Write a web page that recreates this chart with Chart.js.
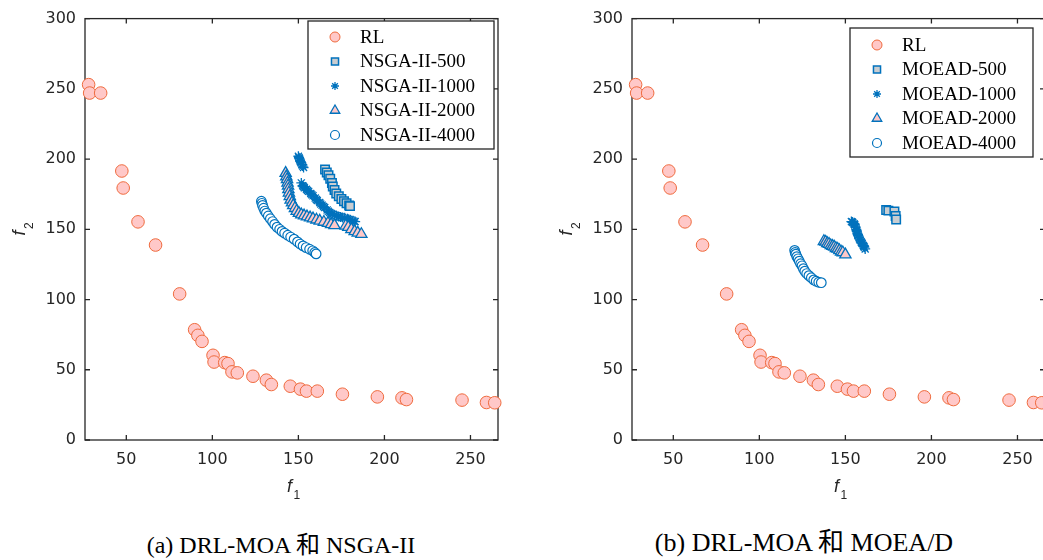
<!DOCTYPE html>
<html>
<head>
<meta charset="utf-8">
<script src="https://cdn.jsdelivr.net/npm/chart.js@4.4.0/dist/chart.umd.min.js"></script>
<style>
html, body { margin: 0; padding: 0; overflow: hidden; background: #fff; width: 1043px; height: 560px; }
canvas { position: absolute; top: 0; }
#cvA { left: 0; }
#cvB { left: 547px; }
.cap { position: absolute; top: 531px; font-family: "Liberation Serif", "Noto Sans CJK SC", serif; font-size: 24px; line-height: 28px; white-space: nowrap; color: #000; transform: translateX(-50%); }
</style>
</head>
<body>
<canvas id="cvA" width="520" height="520"></canvas>
<canvas id="cvB" width="520" height="520"></canvas>
<div class="cap" style="left:281px">(a) DRL-MOA 和 NSGA-II</div>
<div class="cap" style="left:804px; font-size:26px; top:529px">(b) DRL-MOA 和 MOEA/D</div>
<script>
// tick values
const xTicks = [50, 100, 150, 200, 250];
const yTicks = [0, 50, 100, 150, 200, 250, 300];

// RL front (same in both panels) [f1, f2]
const rl = [[28.1,253],[28.7,247],[35.1,247],[47.4,191.5],[48.2,179.4],[56.8,155.3],[67.0,138.8],[81.0,104],
  [89.7,78.5],[91.6,74.5],[94.0,70.2],[100.4,60.3],[101,55.5],[107.2,55.1],[109.1,54.4],[111.4,48.5],[114.5,47.8],
  [123.6,45.4],[131.4,42.6],[134.3,39.5],[145.3,38.3],[151.2,36.2],[154.7,34.8],[161.0,34.8],[175.6,32.6],
  [195.9,30.7],[210.2,30.0],[212.8,28.8],[245.1,28.4],[259.3,26.7],[264.1,26.5]];

// NSGA-II runs
const nsga500 = [[165.5,192.5],[166.5,190.5],[167.5,188.5],[168.5,186],[169.5,183],[170,180.5],[171,178],[172,175.5],
  [173.5,173.5],[175,171.5],[176.5,170],[178,168.5],[179.5,167],[180,166.5]];
const nsga1000 = [[150,202],[150.3,201],[150.5,200.5],[151,199],[151.2,198.2],[151.5,197.5],[152,196],[152.5,195],[153,194],
  [151.7,183],[152.5,181],[153,180.3],[153.5,179.5],[154.7,178.5],[155.3,177.6],[156,177],[157.2,175.5],[157.8,174.6],
  [158.5,173.8],[159.8,172.2],[160.4,171.2],[161,170.5],[162.4,169],[163,168],[163.8,167.2],[164.6,166.2],[165.3,165.5],
  [166.7,163.8],[167.4,162.8],[168.2,162],[169,161.3],[170,160.8],[171,160],[172.1,159.6],[173.3,159.1],[174.5,158.8],
  [175.7,158.4],[176.9,158.2],[178.5,157.5],[179.2,157],[180,156.8],[181.7,156],[182.4,155.6],[183,155.5]];
const nsga2000 = [[142.6,190],[143,187.5],[143.4,185.5],[143.7,183],[144,181],[144.2,178.5],[144.5,176],[145,173.5],
  [145.5,171],[146.3,169],[147,167],[148,165],[149,163],[150.3,161.5],[151.7,160.5],[153.3,159.7],[155,159],
  [156.8,158.3],[158.5,157.6],[160.5,156.8],[162.4,156],[164.8,155.2],[167.2,154.4],[169,153.5],[171,152.8],
  [177.5,152.5],[179,151.5],[180.8,150],[182.7,148.5],[184.5,147.5],[186.6,146.5]];
const nsga4000 = [[128.5,170],[128.8,168.5],[129.2,167],[129.8,165],[130.5,163],[131.4,161.5],[132.5,159.5],[133.7,157.5],
  [135,155.5],[136.2,153.5],[137.6,151.5],[139.1,150],[140.5,148.5],[142,147.3],[143.8,145.8],[145.5,144.5],
  [147.5,143],[149.5,141],[151,139.5],[152.7,138.2],[154.5,137],[156.5,135.8],[158.3,134.7],[159.5,133.5],[160.3,132.5]];

// MOEA/D runs
const moead500 = [[173.7,163.8],[175,163.3],[178.5,162.6],[179.2,159.5],[179.5,157]];
const moead1000 = [[153.5,155.5],[154,155.2],[154.3,154.8],[155,154],[155.3,153.6],[155.5,153],[156,151.5],[156.3,150],
  [156.5,149.2],[156.6,148.5],[157,147],[157.2,146.2],[157.4,145.5],[158,144],[158.2,143.2],[158.5,142.5],[159.2,141],
  [159.5,140.4],[159.8,139.8],[160.4,138.5],[160.7,137.9],[161,137.3],[161.5,136]];
const moead2000 = [[137.5,141.5],[138.5,141],[139.5,140],[140.5,139.5],[141.5,138.5],[142.5,138],[143.5,137.5],
  [144.5,136.5],[145.5,136],[146.5,135],[147.5,134],[148.5,133.5],[150,132]];
const moead4000 = [[120.5,135],[120.8,133.5],[121.2,132.3],[121.8,130.5],[122.5,129],[123.2,127.3],[124,125.5],
  [124.8,124],[125.6,122],[126.4,120.2],[127.5,118.5],[128.8,117],[130.2,115.5],[131.6,114],[133,113],[134.5,112.3],[136,112]];

const axisColor = '#262626';
const blue = '#0072bd';

// marker styles (MATLAB look)
const styles = [
  { pointStyle: 'circle', pointRadius: 6.3, backgroundColor: '#ffc8c8', borderColor: '#ef6b3e', borderWidth: 1, legendR: 5 },
  { pointStyle: 'rect', pointRadius: 6, backgroundColor: '#c9cdd1', borderColor: blue, borderWidth: 1.5, legendR: 5 },
  { pointStyle: 'star', pointRadius: 5, backgroundColor: blue, borderColor: blue, borderWidth: 1.3, legendR: 4 },
  { pointStyle: 'triangle', pointRadius: 6.5, backgroundColor: '#ffc8c8', borderColor: blue, borderWidth: 1.3, legendR: 5.5 },
  { pointStyle: 'circle', pointRadius: 4.8, backgroundColor: '#ffffff', borderColor: blue, borderWidth: 1.2, legendR: 4.5 }
];

function makeSets(labels, series) {
  return series.map((s, i) => ({
    label: labels[i],
    data: s.map(p => ({ x: p[0], y: p[1] })),
    pointStyle: styles[i].pointStyle,
    pointRadius: styles[i].pointRadius,
    pointHoverRadius: styles[i].pointRadius,
    backgroundColor: styles[i].backgroundColor,
    borderColor: styles[i].borderColor,
    borderWidth: styles[i].borderWidth,
    order: series.length - i, // later series on top, like MATLAB
    clip: false
  }));
}

// box, inward ticks, axis titles and boxed legend
const matlabFrame = {
  id: 'matlabFrame',
  beforeDatasetsDraw(chart) {
    const { ctx, chartArea: a, scales: { x, y } } = chart;
    ctx.save();
    ctx.strokeStyle = axisColor;
    ctx.lineWidth = 1.3;
    ctx.strokeRect(a.left, a.top, a.right - a.left, a.bottom - a.top);
    ctx.beginPath();
    x.ticks.forEach(t => {
      const p = x.getPixelForValue(t.value);
      ctx.moveTo(p, a.bottom); ctx.lineTo(p, a.bottom - 5);
      ctx.moveTo(p, a.top); ctx.lineTo(p, a.top + 5);
    });
    y.ticks.forEach(t => {
      const p = y.getPixelForValue(t.value);
      ctx.moveTo(a.left, p); ctx.lineTo(a.left + 5, p);
      ctx.moveTo(a.right, p); ctx.lineTo(a.right - 5, p);
    });
    ctx.stroke();

    // f1 under the x axis
    ctx.fillStyle = axisColor;
    const cx = (a.left + a.right) / 2;
    ctx.textBaseline = 'alphabetic';
    ctx.textAlign = 'center';
    ctx.font = 'italic 18px "Liberation Sans"';
    ctx.fillText('f', cx - 2, 492);
    ctx.textAlign = 'left';
    ctx.font = '12px "Liberation Sans"';
    ctx.fillText('1', cx + 2, 499);

    // f2 rotated
    ctx.translate(25, 233);
    ctx.rotate(-Math.PI / 2);
    ctx.textAlign = 'center';
    ctx.font = 'italic 18px "Liberation Sans"';
    ctx.fillText('f', 0, 0);
    ctx.textAlign = 'left';
    ctx.font = '12px "Liberation Sans"';
    ctx.fillText('2', 4, 8);
    ctx.restore();
  },
  afterDatasetsDraw(chart, args, opts) {
    const { ctx } = chart;
    ctx.save();
    ctx.fillStyle = '#fff';
    ctx.fillRect(opts.x, opts.y, opts.w, opts.h);
    ctx.strokeStyle = axisColor;
    ctx.lineWidth = 1.3;
    ctx.strokeRect(opts.x, opts.y, opts.w, opts.h);
    ctx.font = '19px "Liberation Serif"';
    ctx.textBaseline = 'middle';
    ctx.textAlign = 'left';
    chart.data.datasets.forEach((ds, i) => {
      const ry = opts.y + opts.first + i * opts.step;
      ctx.fillStyle = ds.backgroundColor;
      ctx.strokeStyle = ds.borderColor;
      ctx.lineWidth = ds.borderWidth;
      Chart.helpers.drawPoint(ctx, { pointStyle: ds.pointStyle, radius: styles[i].legendR, rotation: 0, borderWidth: ds.borderWidth }, opts.x + opts.mx, ry);
      ctx.fillStyle = '#000';
      ctx.fillText(ds.label, opts.x + opts.tx, ry + 1);
    });
    ctx.restore();
  }
};

function makeChart(id, labels, series, legendBox) {
  return new Chart(document.getElementById(id).getContext('2d'), {
    type: 'scatter',
    data: { datasets: makeSets(labels, series) },
    options: {
      responsive: false,
      animation: false,
      events: [],
      layout: { padding: { top: 17, right: 22, left: 0, bottom: 0 } },
      scales: {
        x: {
          type: 'linear', min: 26, max: 266,
          afterBuildTicks: s => { s.ticks = xTicks.map(v => ({ value: v })); },
          afterFit: s => { s.height = 80; },
          grid: { display: false, drawTicks: false },
          border: { display: false },
          ticks: { padding: 10, color: axisColor, font: { family: 'DejaVu Sans', size: 16 } }
        },
        y: {
          type: 'linear', min: 0, max: 300,
          afterBuildTicks: s => { s.ticks = yTicks.map(v => ({ value: v })); },
          afterFit: s => { s.width = 85; },
          grid: { display: false, drawTicks: false },
          border: { display: false },
          ticks: { padding: 9, color: axisColor, font: { family: 'DejaVu Sans', size: 16 } }
        }
      },
      plugins: {
        legend: { display: false },
        tooltip: { enabled: false },
        matlabFrame: legendBox
      }
    },
    plugins: [matlabFrame]
  });
}

let chartA = makeChart('cvA',
  ['RL', 'NSGA-II-500', 'NSGA-II-1000', 'NSGA-II-2000', 'NSGA-II-4000'],
  [rl, nsga500, nsga1000, nsga2000, nsga4000],
  { x: 308, y: 21, w: 186, h: 128, first: 16, step: 24.5, mx: 27, tx: 52 });

let chartB = makeChart('cvB',
  ['RL', 'MOEAD-500', 'MOEAD-1000', 'MOEAD-2000', 'MOEAD-4000'],
  [rl, moead500, moead1000, moead2000, moead4000],
  { x: 303, y: 28, w: 183, h: 129, first: 17, step: 24.5, mx: 27, tx: 52 });
</script>
</body>
</html>
